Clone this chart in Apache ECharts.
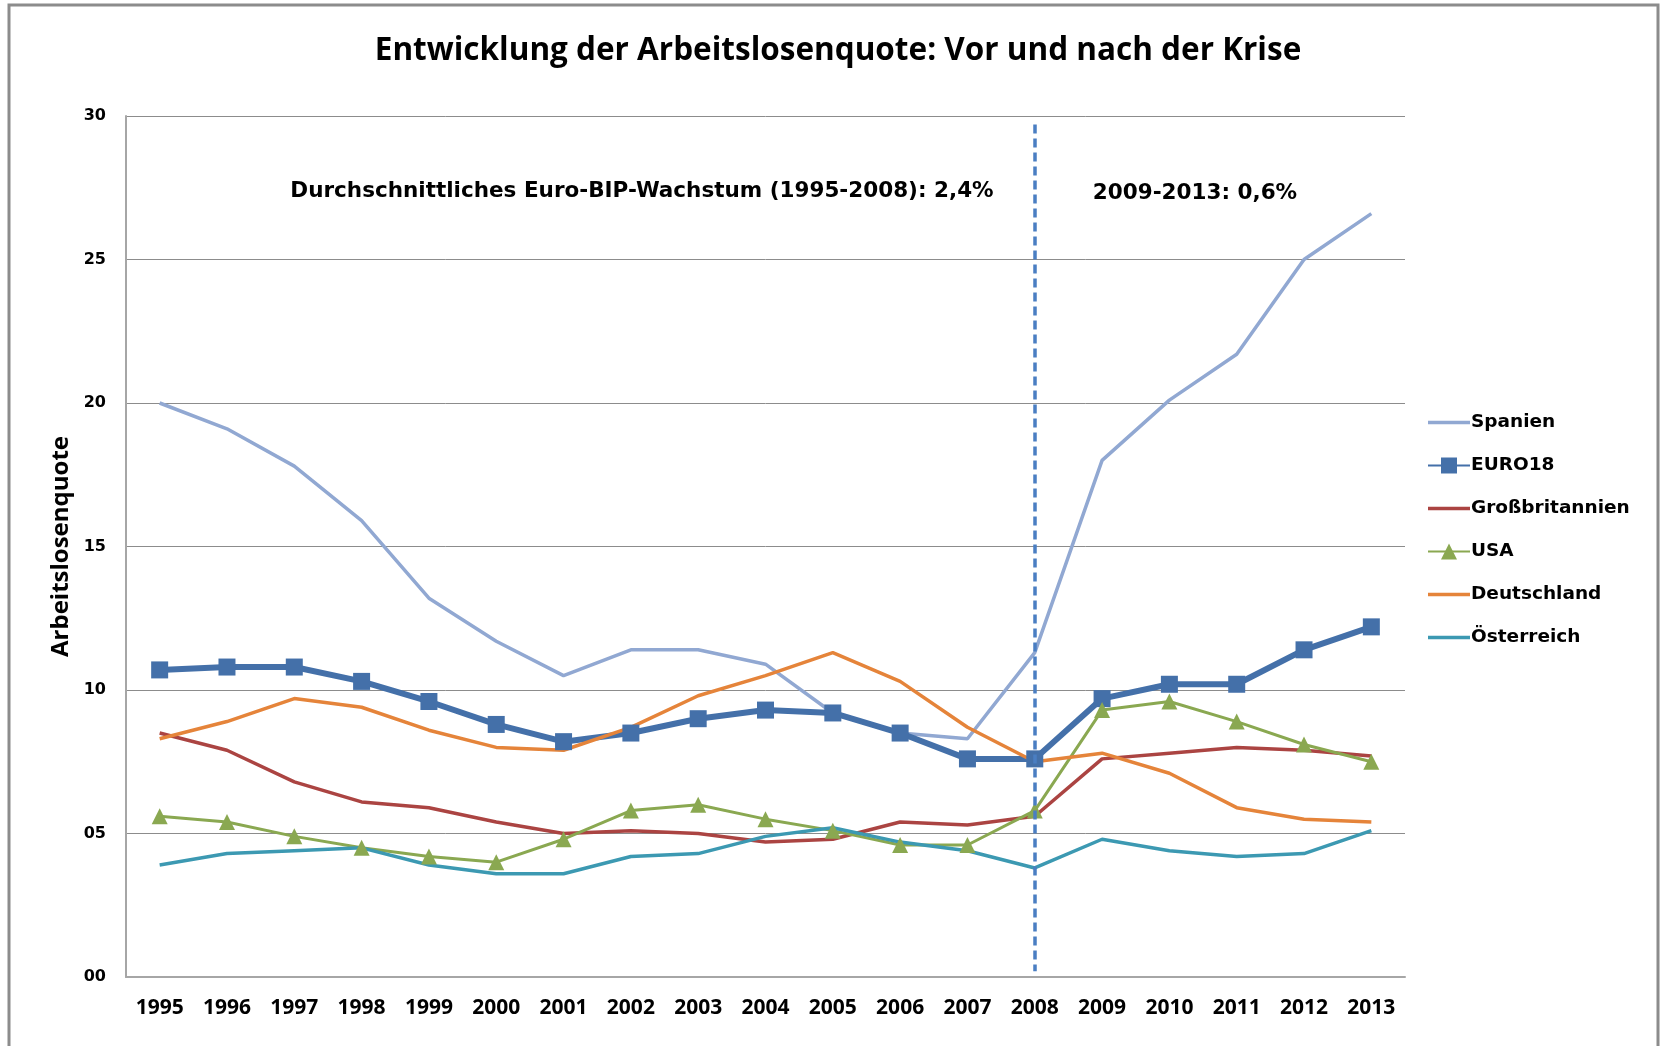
<!DOCTYPE html>
<html>
<head>
<meta charset="utf-8">
<script src="https://cdn.jsdelivr.net/npm/echarts@6/dist/echarts.min.js"></script>
<style>
  html, body { margin: 0; padding: 0; background: #fff; }
  #chart { width: 1663px; height: 1046px; }
</style>
</head>
<body>
<div id="chart"></div>
<script>
const years = ['1995', '1996', '1997', '1998', '1999', '2000', '2001', '2002', '2003', '2004',
    '2005', '2006', '2007', '2008', '2009', '2010', '2011', '2012', '2013'];

const spanien = [20.0, 19.1, 17.8, 15.9, 13.2, 11.7, 10.5, 11.4, 11.4, 10.9,
    9.2, 8.5, 8.3, 11.3, 18.0, 20.1, 21.7, 25.0, 26.6];
const euro18 = [10.7, 10.8, 10.8, 10.3, 9.6, 8.8, 8.2, 8.5, 9.0, 9.3,
    9.2, 8.5, 7.6, 7.6, 9.7, 10.2, 10.2, 11.4, 12.2];
const grossbritannien = [8.5, 7.9, 6.8, 6.1, 5.9, 5.4, 5.0, 5.1, 5.0, 4.7,
    4.8, 5.4, 5.3, 5.6, 7.6, 7.8, 8.0, 7.9, 7.7];
const usa = [5.6, 5.4, 4.9, 4.5, 4.2, 4.0, 4.8, 5.8, 6.0, 5.5,
    5.1, 4.6, 4.6, 5.8, 9.3, 9.6, 8.9, 8.1, 7.5];
const deutschland = [8.3, 8.9, 9.7, 9.4, 8.6, 8.0, 7.9, 8.7, 9.8, 10.5,
    11.3, 10.3, 8.7, 7.5, 7.8, 7.1, 5.9, 5.5, 5.4];
const oesterreich = [3.9, 4.3, 4.4, 4.5, 3.9, 3.6, 3.6, 4.2, 4.3, 4.9,
    5.2, 4.7, 4.4, 3.8, 4.8, 4.4, 4.2, 4.3, 5.1];

const crisisYear = '2008';
const annotationLeft = 'Durchschnittliches Euro-BIP-Wachstum (1995-2008): 2,4%';
const annotationRight = '2009-2013: 0,6%';

const narrow = '"Open Sans", sans-serif';
const wide = '"DejaVu Sans", Verdana, sans-serif';

// plain line icon for the legend (series without markers)
const lineIcon = 'path://M0,0L42,0L42,3.5L0,3.5Z';

const chart = echarts.init(document.getElementById('chart'));

function lineSeries(name, data, color, width, symbol, size) {
    return {
        name: name,
        type: 'line',
        data: data,
        symbol: symbol,
        symbolSize: size,
        showSymbol: symbol !== 'none',
        lineStyle: { color: color, width: width },
        itemStyle: { color: color },
        emphasis: { disabled: true },
        animation: false
    };
}

const series = [
    lineSeries('Spanien', spanien, '#91a8d2', 3.5, 'none', 0),
    lineSeries('EURO18', euro18, '#4470a9', 6, 'rect', 17),
    lineSeries('Großbritannien', grossbritannien, '#ab4442', 3.5, 'none', 0),
    lineSeries('USA', usa, '#8aa851', 3, 'triangle', 16),
    lineSeries('Deutschland', deutschland, '#e5843a', 3.5, 'none', 0),
    lineSeries('Österreich', oesterreich, '#3c99b2', 3.5, 'none', 0)
];

series[0].markLine = {
    silent: true,
    symbol: 'none',
    label: { show: false },
    lineStyle: { color: '#4a7ec2', width: 3.5, type: [9, 5] },
    data: [[{ coord: [crisisYear, 29.7] }, { coord: [crisisYear, 0.2] }]]
};

chart.setOption({
    animation: false,
    backgroundColor: '#fff',
    title: {
        text: 'Entwicklung der Arbeitslosenquote: Vor und nach der Krise',
        left: 833,
        textAlign: 'center',
        top: 30,
        textStyle: { fontFamily: narrow, fontWeight: 'bold', fontSize: 31.5, color: '#000' }
    },
    graphic: [
        {
            type: 'rect',
            shape: { x: 9, y: 5, width: 1649, height: 1060 },
            style: { fill: 'none', stroke: '#8c8c8c', lineWidth: 3 },
            silent: true
        },
        {
            type: 'text',
            x: 642, y: 191,
            style: {
                text: annotationLeft, fill: '#000', align: 'center', verticalAlign: 'middle',
                font: 'bold 21.5px ' + wide
            }
        },
        {
            type: 'text',
            x: 1195, y: 193,
            style: {
                text: annotationRight, fill: '#000', align: 'center', verticalAlign: 'middle',
                font: 'bold 21.5px ' + wide
            }
        }
    ],
    legend: {
        orient: 'vertical',
        left: 1422,
        top: 408,
        itemWidth: 42,
        itemHeight: 20,
        itemGap: 24,
        textStyle: { fontFamily: wide, fontWeight: 'bold', fontSize: 18.5, color: '#000', padding: [0, 0, 0, -4] },
        data: [
            { name: 'Spanien', icon: lineIcon },
            'EURO18',
            { name: 'Großbritannien', icon: lineIcon },
            'USA',
            { name: 'Deutschland', icon: lineIcon },
            { name: 'Österreich', icon: lineIcon }
        ]
    },
    grid: { left: 126, right: 258, top: 116, bottom: 69 },
    xAxis: {
        type: 'category',
        data: years,
        boundaryGap: true,
        axisLine: { lineStyle: { color: '#a6a6a6', width: 2 } },
        axisTick: { show: false },
        axisLabel: {
            color: '#000', fontFamily: narrow, fontWeight: 'bold', fontSize: 21, margin: 21
        }
    },
    yAxis: {
        type: 'value',
        min: 0,
        max: 30,
        interval: 5,
        name: 'Arbeitslosenquote',
        nameLocation: 'middle',
        nameRotate: 90,
        nameGap: 52,
        nameTextStyle: { fontFamily: narrow, fontWeight: 'bold', fontSize: 24, color: '#000' },
        axisLine: { show: true, lineStyle: { color: '#a6a6a6', width: 2 } },
        axisTick: { show: false },
        splitLine: { lineStyle: { color: '#8c8c8c', width: 1 } },
        axisLabel: {
            color: '#000', fontFamily: wide, fontWeight: 'bold', fontSize: 16, margin: 20,
            formatter: v => String(v).padStart(2, '0')
        }
    },
    series: series
});
</script>
</body>
</html>
